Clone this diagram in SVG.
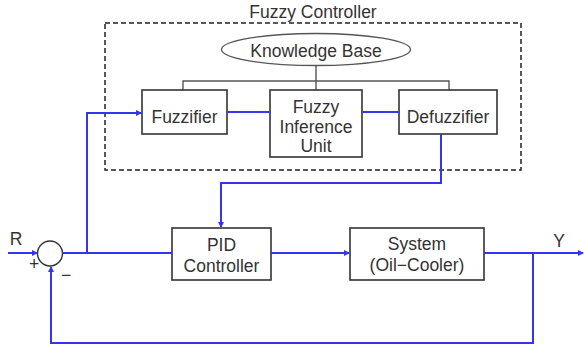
<svg xmlns="http://www.w3.org/2000/svg" width="584" height="346" viewBox="0 0 584 346">
  <style>
    .box { fill: #ffffff; stroke: #333333; stroke-width: 1.6; }
    .lbl { font-family: "Liberation Sans", Arial, sans-serif; font-size: 17.5px; fill: #333333; text-anchor: middle; }
    .sig { fill: none; stroke: #3535f0; stroke-width: 2; }
    .bus { fill: none; stroke: #555555; stroke-width: 1.4; }
  </style>
  <defs>
    <marker id="arr" markerWidth="6" markerHeight="6" refX="5" refY="3" orient="auto" markerUnits="userSpaceOnUse">
      <path d="M0,0 L6,3 L0,6 Z" fill="#3535f0"/>
    </marker>
  </defs>
  <rect width="584" height="346" fill="#ffffff"/>

  <!-- fuzzy controller frame -->
  <g id="fuzzy-controller">
    <rect x="105" y="23" width="416" height="147" fill="none" stroke="#222222" stroke-width="1.5" stroke-dasharray="5,3"/>
    <text class="lbl" x="313" y="18">Fuzzy Controller</text>
  </g>

  <!-- knowledge base bus -->
  <g id="kb-bus">
    <path class="bus" d="M316,65 V81 M183,90 V81 H449 V90 M316,81 V90"/>
  </g>

  <g id="knowledge-base">
    <ellipse cx="316" cy="49.5" rx="94.5" ry="16" fill="#ffffff" stroke="#555555" stroke-width="1.3"/>
    <text class="lbl" x="316" y="56.5">Knowledge Base</text>
  </g>

  <g id="fuzzifier">
    <rect class="box" x="142" y="90" width="85" height="44"/>
    <text class="lbl" x="184.5" y="122.5">Fuzzifier</text>
  </g>

  <g id="inference-unit">
    <rect class="box" x="270" y="90" width="92" height="67"/>
    <text class="lbl" x="316" y="113">Fuzzy</text>
    <text class="lbl" x="316" y="133">Inference</text>
    <text class="lbl" x="316" y="152">Unit</text>
  </g>

  <g id="defuzzifier">
    <rect class="box" x="399" y="90" width="98" height="44"/>
    <text class="lbl" x="448" y="122.5">Defuzzifier</text>
  </g>

  <g id="pid">
    <rect class="box" x="172" y="228" width="99" height="52"/>
    <text class="lbl" x="221.5" y="251">PID</text>
    <text class="lbl" x="221.5" y="272">Controller</text>
  </g>

  <g id="system">
    <rect class="box" x="350" y="228" width="134" height="52"/>
    <text class="lbl" x="417" y="250">System</text>
    <text class="lbl" x="417" y="271">(Oil−Cooler)</text>
  </g>

  <g id="summer">
    <circle cx="50" cy="253.5" r="12.5" fill="#ffffff" stroke="#333333" stroke-width="1.4"/>
  </g>

  <!-- signal connectors -->
  <g id="connectors">
    <path class="sig" d="M227,112 H270 M362,112 H399"/>
    <path class="sig" d="M8,253 H37" marker-end="url(#arr)"/>
    <path class="sig" d="M62.5,253 H172"/>
    <path class="sig" d="M87,253 V113 H141" marker-end="url(#arr)"/>
    <path class="sig" d="M441,134 V183 H221 V227" marker-end="url(#arr)"/>
    <path class="sig" d="M271,253 H349" marker-end="url(#arr)"/>
    <path class="sig" d="M484,253 H583" marker-end="url(#arr)"/>
    <path class="sig" d="M533,253 V343 H51 V267" marker-end="url(#arr)"/>
  </g>

  <!-- signal labels -->
  <g id="signal-labels">
    <text class="lbl" x="16" y="245" font-size="14">R</text>
    <text class="lbl" x="559" y="247" font-size="15">Y</text>
    <text class="lbl" x="34" y="270" font-size="13" fill="#555555">+</text>
    <text class="lbl" x="66" y="281" font-size="14" fill="#555555">−</text>
  </g>
</svg>
